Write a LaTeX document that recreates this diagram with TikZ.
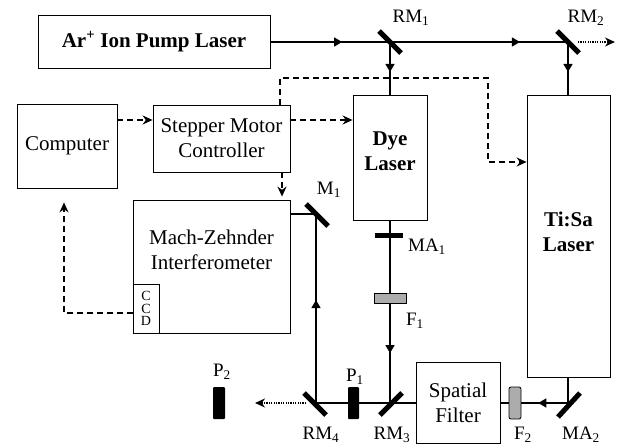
\documentclass[tikz,border=0pt]{standalone}
\usepackage{fontspec}
\setmainfont{Liberation Serif}
\usetikzlibrary{arrows.meta,decorations.markings}
\begin{document}
\begin{tikzpicture}[x=1pt,y=-1pt,
  box/.style={draw,line width=0.8pt,inner sep=0pt,align=center,font=\fontsize{21}{25}\selectfont},
  txt/.style={inner sep=0pt,align=center,font=\fontsize{21}{25}\selectfont},
  beam/.style={line width=1.3pt},
  dsh/.style={line width=1.4pt,dash pattern=on 6pt off 4pt,-{Stealth[length=10pt,width=9pt]}},
  dot/.style={line width=1.3pt,dash pattern=on 1.2pt off 1.2pt,-{Stealth[length=10pt,width=9pt]}},
  mirror/.style={line width=5pt},
  lbl/.style={font=\fontsize{19}{19}\selectfont,inner sep=0pt},
  amark/.style={postaction={decorate},decoration={markings,mark=at position #1 with {\arrow{Triangle[length=8pt,width=9pt]}}}},
]
\useasboundingbox (0,0) rectangle (623,447);

% boxes
\node[box,minimum width=232pt,minimum height=53pt] (ar) at (154,41.5) {\bfseries Ar\textsuperscript{+} Ion Pump Laser};
\node[box,minimum width=100pt,minimum height=84pt] (comp) at (67,146) {Computer};
\node[box,minimum width=137pt,minimum height=67pt] (smc) at (221.5,138.5) {Stepper Motor\\Controller};
\node[box,minimum width=157pt,minimum height=133pt] (mz) at (211.5,266.5) {};
\node[txt] (mzt) at (211.5,250) {Mach-Zehnder\\Interferometer};
\node[box,minimum width=26pt,minimum height=49pt] (ccd) at (146,308.5) {};
\node[inner sep=0pt,align=center,font=\fontsize{14}{12.5}\selectfont] (ccdt) at (ccd) {C\\C\\D};
\node[box,minimum width=74pt,minimum height=125pt] (dye) at (390,157.5) {};
\node[txt] (dyet) at (390,151) {\bfseries Dye\\\bfseries Laser};
\node[box,minimum width=83pt,minimum height=282pt] (tisa) at (568.5,236) {};
\node[txt] (tisat) at (568.5,232) {\bfseries Ti:Sa\\\bfseries Laser};
\node[box,minimum width=84pt,minimum height=81pt] (sf) at (458,402.5) {Spatial\\Filter};

% mirror positions
\coordinate (rm1) at (390,42);
\coordinate (rm2) at (568,42);
\coordinate (m1) at (316,214);
\coordinate (rm4) at (316,403);
\coordinate (rm3) at (390,403);
\coordinate (ma2) at (568,403);
\coordinate (d2) at (615,42);
\coordinate (p2e) at (255,403);

% beams
\draw[beam,amark=0.6] (ar.east |- rm1) -- (rm1);
\draw[beam,amark=0.73] (rm1) -- (rm2);
\draw[beam,amark=0.57] (rm1) -- (rm1 |- dye.north);
\draw[beam,amark=0.57] (rm2) -- (rm2 |- tisa.north);
\draw[dot] ([xshift=10pt]rm2) -- (d2);
\draw[beam,amark=0.727] (rm3 |- dye.south) -- (rm3);
\draw[beam] (rm3) -- (sf.west |- rm3);
\draw[beam,amark=0.44] (ma2) -- (sf.east |- ma2);
\draw[beam] (ma2 |- tisa.south) -- (ma2);
\draw[beam] (rm3) -- (rm4);
\draw[beam,amark=0.545] (rm4) -- (m1);
\draw[beam] (m1) -- (mz.east |- m1);
\draw[dot] ([xshift=-10pt]rm4) -- (p2e);

% optical elements
\node[fill=black,minimum width=28pt,minimum height=5pt,inner sep=0pt] (ma1) at (389,235.5) {};
\node[draw,line width=0.8pt,fill=gray!65,minimum width=32pt,minimum height=10pt,inner sep=0pt] (f1) at (390,298) {};
\node[fill=black,rounded corners=1pt,minimum width=11pt,minimum height=32pt,inner sep=0pt] (p1) at (353.5,403) {};
\node[fill=black,rounded corners=1pt,minimum width=12pt,minimum height=32pt,inner sep=0pt] (p2) at (219,403) {};
\node[draw,line width=0.8pt,fill=gray!65,rounded corners=2pt,minimum width=12pt,minimum height=32pt,inner sep=0pt] (f2) at (515,403) {};

% mirrors
\draw[mirror] ([shift={(-11,-11)}]rm1) -- ([shift={(11,11)}]rm1);
\draw[mirror] ([shift={(-11,-11)}]rm2) -- ([shift={(11,11)}]rm2);
\draw[mirror] ([shift={(-10,-10)}]m1) -- ([shift={(12,12)}]m1);
\draw[mirror] ([shift={(-12,-10)}]rm4) -- ([shift={(10,12)}]rm4);
\draw[mirror] ([shift={(-10,12)}]rm3) -- ([shift={(12,-10)}]rm3);
\draw[mirror] ([shift={(-10,14)}]ma2) -- ([shift={(12,-10)}]ma2);

% dashed control lines
\coordinate (y120) at (0,120);
\coordinate (t1) at (280,78);
\coordinate (t2) at (488,78);
\coordinate (t3) at (488,162);
\coordinate (sx) at (282,0);
\coordinate (cc) at (64,313);
\draw[dsh] (comp.east |- y120) -- (smc.west |- y120);
\draw[dsh] (smc.east |- y120) -- (dye.west |- y120);
\draw[dsh] (smc.north -| t1) -- (t1) -- (t2) -- (t3) -- (tisa.west |- t3);
\draw[dsh,shorten >=3pt] (smc.south -| sx) -- (mz.north -| sx);
\draw[dsh,shorten >=14pt] (ccd.west |- cc) -- (cc) -- (comp.south -| cc);

% labels
\node[lbl] (lrm1) at (411,18) {RM\textsubscript{1}};
\node[lbl] (lrm2) at (586,18) {RM\textsubscript{2}};
\node[lbl] (lm1) at (329,190) {M\textsubscript{1}};
\node[lbl] (lma1) at (427,247) {MA\textsubscript{1}};
\node[lbl] (lf1) at (415,321) {F\textsubscript{1}};
\node[lbl] (lp1) at (355,377) {P\textsubscript{1}};
\node[lbl] (lp2) at (222,372) {P\textsubscript{2}};
\node[lbl] (lrm4) at (321,435) {RM\textsubscript{4}};
\node[lbl] (lrm3) at (392,435) {RM\textsubscript{3}};
\node[lbl] (lf2) at (523,435) {F\textsubscript{2}};
\node[lbl] (lma2) at (581,435) {MA\textsubscript{2}};
\end{tikzpicture}
\end{document}
